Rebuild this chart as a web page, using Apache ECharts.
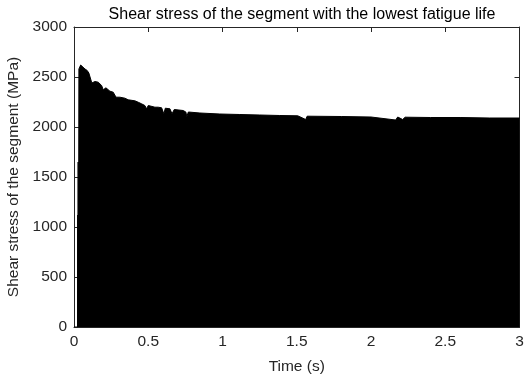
<!DOCTYPE html>
<html>
<head>
<meta charset="utf-8">
<script src="https://cdn.jsdelivr.net/npm/echarts@6/dist/echarts.min.js"></script>
<style>html,body{margin:0;padding:0;background:#fff}#c{width:524px;height:379px}</style>
</head>
<body>
<div id="c"></div>
<script>
// Time (s) sample points of the upper envelope of the oscillating shear stress
var times = [0, 0.024, 0.025, 0.026, 0.028, 0.030, 0.033, 0.045, 0.055, 0.074, 0.089, 0.100, 0.108, 0.120, 0.126,
  0.141, 0.163, 0.186, 0.197, 0.215, 0.242, 0.264, 0.283, 0.309, 0.343, 0.365, 0.41, 0.432, 0.455, 0.477,
  0.489, 0.5, 0.511, 0.545, 0.567, 0.59, 0.605, 0.615, 0.646, 0.66, 0.675, 0.735, 0.753, 0.76, 0.77, 0.848,
  0.982, 1.117, 1.251, 1.386, 1.507, 1.56, 1.57, 1.8, 2.0, 2.166, 2.18, 2.213, 2.23, 2.4, 2.6, 2.8, 3.0];
// Shear stress (MPa) envelope values
var stress = [0, 0, 1120, 0, 1650, 0, 2580, 2620, 2600, 2580, 2565, 2540, 2522, 2440, 2432,
  2455, 2448, 2415, 2372, 2392, 2358, 2348, 2298, 2298, 2288, 2272, 2262, 2248, 2232, 2215,
  2182, 2215, 2215, 2198, 2198, 2192, 2132, 2188, 2182, 2132, 2175, 2165, 2150, 2105, 2150, 2140,
  2130, 2125, 2120, 2115, 2112, 2075, 2108, 2105, 2100, 2070, 2100, 2075, 2098, 2095, 2095, 2090, 2090];
var xTicks = [0, 0.5, 1, 1.5, 2, 2.5, 3];
var yTicks = [0, 500, 1000, 1500, 2000, 2500, 3000];
var titleText = 'Shear stress of the segment with the lowest fatigue life';
var xName = 'Time (s)';
var yName = 'Shear stress of the segment (MPa)';

var data = times.map(function (t, i) { return [t, stress[i]]; });
var txt = '#262626';
var font = 'Liberation Sans, Arial, Helvetica, sans-serif';
var chart = echarts.init(document.getElementById('c'), null, {renderer: 'canvas'});
var axisCommon = {
  type: 'value',
  axisLine: {show: true, onZero: false, lineStyle: {color: txt, width: 1}},
  axisTick: {show: true, inside: true, length: 5, lineStyle: {color: txt}},
  splitLine: {show: false}
};
function fmt(v) { return String(v); }
chart.setOption({
  animation: false,
  title: {
    text: titleText, left: 297, top: 2, textAlign: 'center',
    textStyle: {fontFamily: font, fontSize: 16, fontWeight: 'normal', color: '#000'}
  },
  grid: {left: 74, right: 4.5, top: 27, bottom: 52, containLabel: false, outerBoundsMode: 'none'},
  xAxis: [
    Object.assign({}, axisCommon, {
      min: xTicks[0], max: xTicks[xTicks.length - 1], interval: 0.5, position: 'bottom',
      name: xName, nameLocation: 'middle', nameGap: 32,
      nameTextStyle: {fontFamily: font, fontSize: 15.5, color: txt},
      axisLabel: {fontFamily: font, fontSize: 15.5, color: txt, margin: 7, formatter: fmt}
    }),
    Object.assign({}, axisCommon, {
      min: xTicks[0], max: xTicks[xTicks.length - 1], interval: 0.5, position: 'top',
      axisLabel: {show: false}
    })
  ],
  yAxis: [
    Object.assign({}, axisCommon, {
      min: yTicks[0], max: yTicks[yTicks.length - 1], interval: 500, position: 'left',
      name: yName, nameLocation: 'middle', nameGap: 42,
      nameTextStyle: {fontFamily: font, fontSize: 15.5, color: txt},
      axisLabel: {fontFamily: font, fontSize: 15.5, color: txt, margin: 7, formatter: fmt}
    }),
    Object.assign({}, axisCommon, {
      min: yTicks[0], max: yTicks[yTicks.length - 1], interval: 500, position: 'right',
      axisLabel: {show: false}
    })
  ],
  series: [{
    type: 'line',
    data: data,
    showSymbol: false,
    xAxisIndex: 0, yAxisIndex: 0,
    lineStyle: {color: '#000', width: 1},
    areaStyle: {color: '#000', opacity: 1, origin: 'start'},
    z: 1
  }]
});
</script>
</body>
</html>
